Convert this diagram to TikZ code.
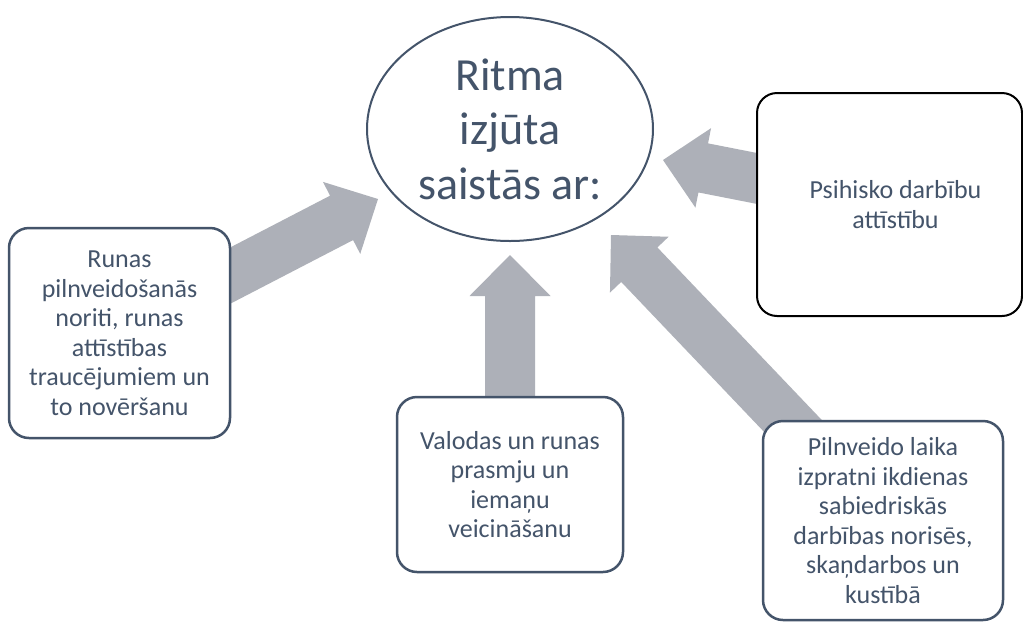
\documentclass[tikz,border=0pt]{standalone}
\usepackage{fontspec}
\setmainfont{Carlito}
\usetikzlibrary{calc,shapes.geometric}
\pgfdeclarelayer{background}
\pgfsetlayers{background,main}
\definecolor{txt}{RGB}{68,84,106}
\definecolor{arr}{RGB}{173,176,184}
\newcommand\blockarrow[2]{%
  \path ($(#2)!41pt!(#1)$) coordinate (hb);
  \fill[arrfill] ($(#1)!25pt!90:(#2)$) -- ($(hb)!25pt!-90:(#1)$) -- ($(hb)!40.5pt!-90:(#1)$)
    -- (#2) -- ($(hb)!40.5pt!90:(#1)$) -- ($(hb)!25pt!90:(#1)$) -- ($(#1)!25pt!-90:(#2)$) -- cycle;}
\begin{document}
\begin{tikzpicture}[x=1pt,y=-1pt,
  box/.style={draw=txt, line width=2.5pt, rounded corners=20pt, fill=white, text=txt,
    align=center, inner sep=0pt, font=\fontsize{26}{29.5}\selectfont},
  ell/.style={ellipse, draw=txt, line width=2pt, fill=white, text=txt, align=center,
    inner sep=0pt, font=\fontsize{46}{54.5}\selectfont},
  arrfill/.style={fill=arr}]
\useasboundingbox (0,0) rectangle (1023,622);

\node[ell, minimum width=286pt, minimum height=224pt] (center) at (510,129)
  {Ritma\\izjūta\\saistās ar:};
\node[box, minimum width=221pt, minimum height=210pt] (runas) at (119.5,333)
  {Runas\\pilnveidošanās\\noriti, runas\\attīstības\\traucējumiem un\\to novēršanu};
\node[box, draw=black, line width=2pt, minimum width=265pt, minimum height=223pt] (psih) at (889.5,204.5)
  {\hspace*{12pt}Psihisko darbību\\\hspace*{12pt}attīstību};
\node[box, minimum width=226pt, minimum height=175pt] (val) at (510,484.5)
  {Valodas un runas\\prasmju un\\iemaņu\\veicināšanu};
\node[box, minimum width=240pt, minimum height=199pt] (piln) at (883,520.5)
  {Pilnveido laika\\izpratni ikdienas\\sabiedriskās\\darbības norisēs,\\skaņdarbos un\\kustībā};

\coordinate (tL) at (378,199);
\coordinate (tR) at (663,160);
\coordinate (tM) at (510,255);
\coordinate (tD) at (611,235);

\begin{pgfonlayer}{background}
\fill[white] (0,0) rectangle (1023,622);
\blockarrow{runas.center}{tL}
\blockarrow{psih.center}{tR}
\blockarrow{val.center}{tM}
\blockarrow{piln.center}{tD}
\end{pgfonlayer}
\end{tikzpicture}
\end{document}
